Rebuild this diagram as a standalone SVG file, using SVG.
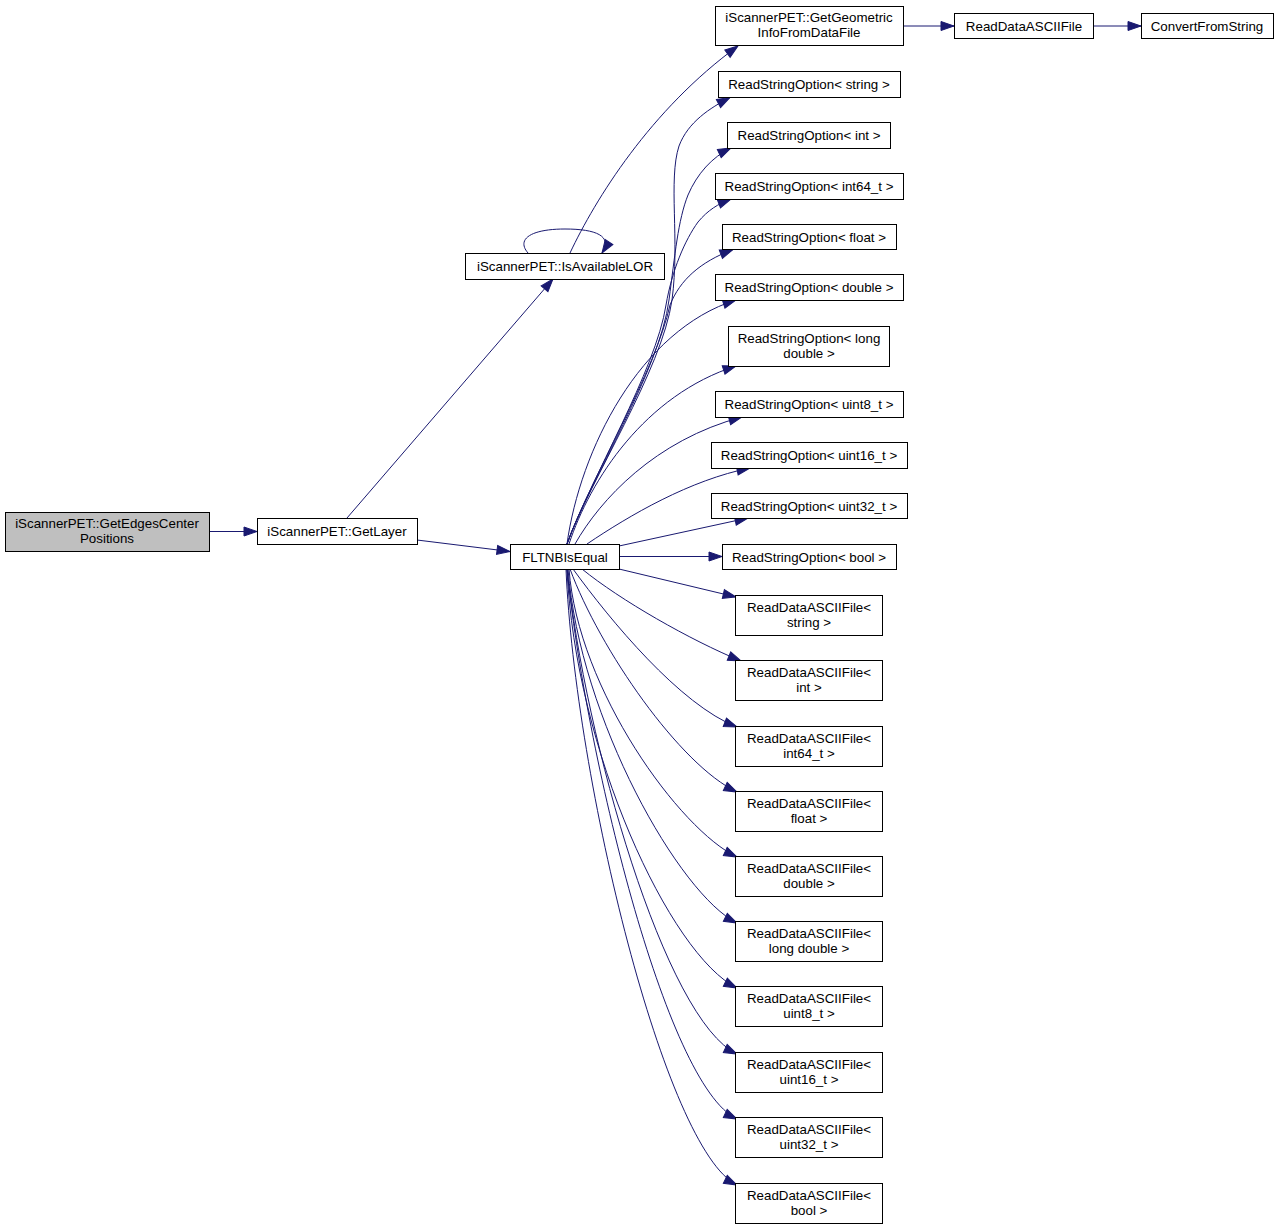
<svg xmlns="http://www.w3.org/2000/svg" width="1279" height="1229" viewBox="0 0 1279 1229">
<defs>
<marker id="ah" markerUnits="userSpaceOnUse" markerWidth="15" markerHeight="11" refX="13" refY="5" orient="auto" overflow="visible">
<path d="M0,0.5 L13,5 L0,9.5 z" fill="#191970" stroke="#191970" stroke-width="1"/>
</marker>
</defs>
<style>
.bg{fill:#ffffff}
.n rect{fill:#ffffff;stroke:#000000;stroke-width:1}
.n.cur rect{fill:#bfbfbf}
.n text{font-family:"Liberation Sans",Arial,Helvetica,sans-serif;font-size:13.33px;fill:#000000;text-anchor:middle}
.e path{fill:none;stroke:#191970;stroke-width:1;marker-end:url(#ah)}
</style>
<rect class="bg" x="0" y="0" width="1279" height="1229"/>

<g id="edges" class="e">
<path d="M209,531.5 L257,531.5"/>
<path d="M347,518 L553,279"/>
<path d="M417,540 L510,551.5"/>
<path d="M528,253 C516,239 531,229 565,229 C596,229 613,236 602,253"/>
<path d="M570,253 C595,200 650,110 738,46"/>
<path d="M903,26 L954,26"/>
<path d="M1093,26 L1141,26"/>
<path d="M567,544 C590,480 662,370 672,300 C680,240 668,180 679,146 C688,122 710,108 730,97.5"/>
<path d="M567,544 C590,480 660,370 669,300 C675,255 678,220 688,195 C697,174 712,157 731,148"/>
<path d="M567,544 C590,480 656,370 666,305 C672,270 685,240 698,222 C708,210 718,204 731,199"/>
<path d="M567,544 C590,480 656,370 670,305 C680,280 700,262 733,249.5"/>
<path d="M567,544 C580,450 640,330 736,300"/>
<path d="M569,544 C590,480 645,395 736,366"/>
<path d="M575,544 C600,500 655,440 742,417"/>
<path d="M587,544 C630,515 690,480 750,468"/>
<path d="M619,546 L748,518"/>
<path d="M619,556.5 L722,556.5"/>
<path d="M619,569 L736,597"/>
<path d="M582,569 C620,600 690,640 741,661"/>
<path d="M573,569 C610,620 680,705 737,727"/>
<path d="M570,569 C600,650 680,765 737,792"/>
<path d="M569,569 C578,690 680,830 737,857"/>
<path d="M568,569 C580,720 680,895 737,923"/>
<path d="M567,569 C575,750 670,955 737,988"/>
<path d="M567,569 C585,740 665,1020 737,1054"/>
<path d="M567,569 C585,750 665,1085 737,1119"/>
<path d="M566,569 C575,780 665,1150 737,1185"/>
</g>

<g id="node_GetEdgesCenterPositions" class="n cur">
<rect x="5.5" y="512.5" width="204" height="39"/>
<text x="107" y="527.5">iScannerPET::GetEdgesCenter</text>
<text x="107" y="542.5">Positions</text>
</g>
<g id="node_GetLayer" class="n">
<rect x="257.5" y="518.5" width="160" height="26"/>
<text x="337" y="536">iScannerPET::GetLayer</text>
</g>
<g id="node_IsAvailableLOR" class="n">
<rect x="465.5" y="253.5" width="199" height="26"/>
<text x="565" y="271">iScannerPET::IsAvailableLOR</text>
</g>
<g id="node_FLTNBIsEqual" class="n">
<rect x="510.5" y="544.5" width="109" height="25"/>
<text x="565" y="561.5">FLTNBIsEqual</text>
</g>
<g id="node_GetGeometricInfoFromDataFile" class="n">
<rect x="715.5" y="6.5" width="188" height="39"/>
<text x="809" y="22">iScannerPET::GetGeometric</text>
<text x="809" y="37">InfoFromDataFile</text>
</g>
<g id="node_ReadDataASCIIFile" class="n">
<rect x="954.5" y="13.5" width="139" height="25"/>
<text x="1024" y="30.5">ReadDataASCIIFile</text>
</g>
<g id="node_ConvertFromString" class="n">
<rect x="1141.5" y="13.5" width="132" height="25"/>
<text x="1207" y="30.5">ConvertFromString</text>
</g>

<g id="node_RSO_string" class="n">
<rect x="718.5" y="71.5" width="182" height="26"/>
<text x="809" y="89">ReadStringOption&lt; string &gt;</text>
</g>
<g id="node_RSO_int" class="n">
<rect x="727.5" y="122.5" width="163" height="26"/>
<text x="809" y="140">ReadStringOption&lt; int &gt;</text>
</g>
<g id="node_RSO_int64" class="n">
<rect x="715.5" y="173.5" width="188" height="26"/>
<text x="809" y="191">ReadStringOption&lt; int64_t &gt;</text>
</g>
<g id="node_RSO_float" class="n">
<rect x="722.5" y="224.5" width="174" height="25"/>
<text x="809" y="241.5">ReadStringOption&lt; float &gt;</text>
</g>
<g id="node_RSO_double" class="n">
<rect x="715.5" y="274.5" width="188" height="26"/>
<text x="809" y="292">ReadStringOption&lt; double &gt;</text>
</g>
<g id="node_RSO_longdouble" class="n">
<rect x="728.5" y="326.5" width="161" height="40"/>
<text x="809" y="342.5">ReadStringOption&lt; long</text>
<text x="809" y="357.5">double &gt;</text>
</g>
<g id="node_RSO_uint8" class="n">
<rect x="715.5" y="391.5" width="188" height="26"/>
<text x="809" y="409">ReadStringOption&lt; uint8_t &gt;</text>
</g>
<g id="node_RSO_uint16" class="n">
<rect x="711.5" y="442.5" width="196" height="26"/>
<text x="809" y="460">ReadStringOption&lt; uint16_t &gt;</text>
</g>
<g id="node_RSO_uint32" class="n">
<rect x="711.5" y="493.5" width="196" height="25"/>
<text x="809" y="510.5">ReadStringOption&lt; uint32_t &gt;</text>
</g>
<g id="node_RSO_bool" class="n">
<rect x="722.5" y="544.5" width="174" height="25"/>
<text x="809" y="561.5">ReadStringOption&lt; bool &gt;</text>
</g>

<g id="node_RDA_string" class="n">
<rect x="735.5" y="595.5" width="147" height="40"/>
<text x="809" y="611.5">ReadDataASCIIFile&lt;</text>
<text x="809" y="626.5">string &gt;</text>
</g>
<g id="node_RDA_int" class="n">
<rect x="735.5" y="660.5" width="147" height="40"/>
<text x="809" y="676.5">ReadDataASCIIFile&lt;</text>
<text x="809" y="691.5">int &gt;</text>
</g>
<g id="node_RDA_int64" class="n">
<rect x="735.5" y="726.5" width="147" height="40"/>
<text x="809" y="742.5">ReadDataASCIIFile&lt;</text>
<text x="809" y="757.5">int64_t &gt;</text>
</g>
<g id="node_RDA_float" class="n">
<rect x="735.5" y="791.5" width="147" height="40"/>
<text x="809" y="807.5">ReadDataASCIIFile&lt;</text>
<text x="809" y="822.5">float &gt;</text>
</g>
<g id="node_RDA_double" class="n">
<rect x="735.5" y="856.5" width="147" height="40"/>
<text x="809" y="872.5">ReadDataASCIIFile&lt;</text>
<text x="809" y="887.5">double &gt;</text>
</g>
<g id="node_RDA_longdouble" class="n">
<rect x="735.5" y="921.5" width="147" height="40"/>
<text x="809" y="937.5">ReadDataASCIIFile&lt;</text>
<text x="809" y="952.5">long double &gt;</text>
</g>
<g id="node_RDA_uint8" class="n">
<rect x="735.5" y="986.5" width="147" height="40"/>
<text x="809" y="1002.5">ReadDataASCIIFile&lt;</text>
<text x="809" y="1017.5">uint8_t &gt;</text>
</g>
<g id="node_RDA_uint16" class="n">
<rect x="735.5" y="1052.5" width="147" height="40"/>
<text x="809" y="1068.5">ReadDataASCIIFile&lt;</text>
<text x="809" y="1083.5">uint16_t &gt;</text>
</g>
<g id="node_RDA_uint32" class="n">
<rect x="735.5" y="1117.5" width="147" height="40"/>
<text x="809" y="1133.5">ReadDataASCIIFile&lt;</text>
<text x="809" y="1148.5">uint32_t &gt;</text>
</g>
<g id="node_RDA_bool" class="n">
<rect x="735.5" y="1183.5" width="147" height="40"/>
<text x="809" y="1199.5">ReadDataASCIIFile&lt;</text>
<text x="809" y="1214.5">bool &gt;</text>
</g>
</svg>
